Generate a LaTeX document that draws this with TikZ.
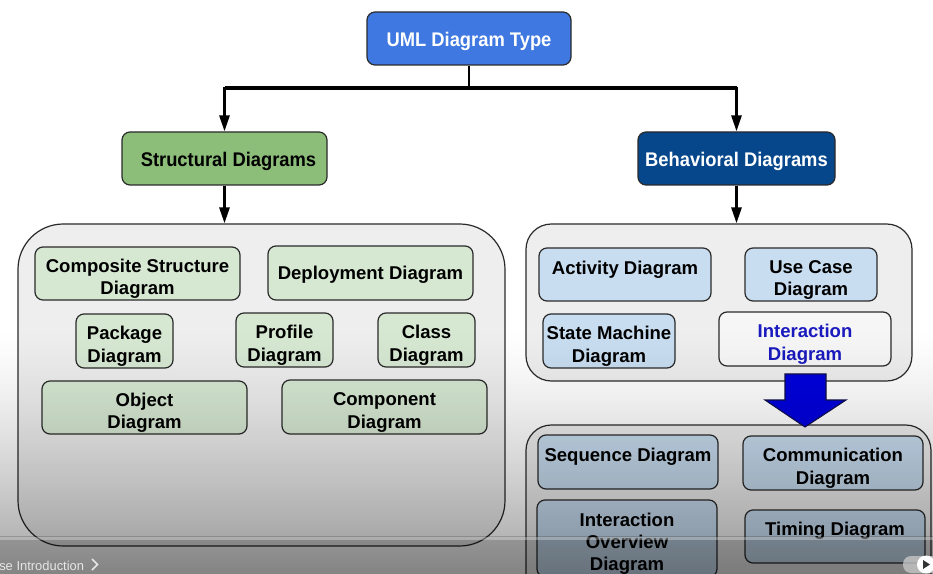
\documentclass[tikz,border=0pt]{standalone}
\usepackage{fontspec}
\setmainfont{Liberation Sans}
\newfontfamily\narrowfont[FakeStretch=0.93]{Liberation Sans}
\usetikzlibrary{arrows.meta}
\definecolor{topblue}{HTML}{3E78E0}
\definecolor{strgreen}{HTML}{8CBE7A}
\definecolor{behblue}{HTML}{06468A}
\definecolor{contfill}{HTML}{EEEEEE}
\definecolor{lgreen}{HTML}{D6E8D2}
\definecolor{lblue}{HTML}{C8DDF0}
\definecolor{interfill}{HTML}{F6F6F6}
\definecolor{edgecol}{HTML}{2A2A2A}
\definecolor{interblue}{HTML}{1A1ABE}
\definecolor{bigarrow}{HTML}{0000DC}
\definecolor{bigarrowedge}{HTML}{10104A}
\definecolor{uitext}{HTML}{E6E6E6}
\newcommand\tstrut{\rule{0pt}{18pt}}
\newcommand\hstrut{\rule{0pt}{14.6pt}}
\begin{document}
\begin{tikzpicture}[x=0.75pt,y=-0.75pt,
  sz/.style n args={2}{minimum width=#1*0.75pt, minimum height=#2*0.75pt},
  box/.style={draw=edgecol, line width=0.9pt, rounded corners=6pt, inner sep=0pt, align=center,
              font=\fontsize{13.9}{16.8}\selectfont\bfseries},
  gbox/.style={box, fill=lgreen},
  bbox/.style={box, fill=lblue},
  titlebox/.style={draw=edgecol, line width=0.9pt, rounded corners=6pt, inner sep=0pt,
              font=\narrowfont\bfseries\fontsize{14.8}{17}\selectfont},
  cont/.style={draw=edgecol, line width=0.9pt, fill=contfill, inner sep=0pt},
  conn/.style={line width=2.1pt, draw=black},
  arr/.style={conn, -{Triangle[length=12pt,width=7.5pt]}},
]
\useasboundingbox (0,0) rectangle (933,574);
\fill[white] (0,0) rectangle (933,574);

% containers
\node[cont, rounded corners=34pt, sz={487}{322}] (leftc) at (261.5,385) {};
\node[cont, rounded corners=19pt, sz={386}{157}] (rc) at (719,302.5) {};
\node[cont, rounded corners=19pt, sz={405}{175}] (bc) at (728.5,512.5) {};

% title boxes
\node[titlebox, fill=topblue, text=white, sz={204}{53}] (top) at (469,38.5) {\hstrut UML Diagram Type};
\node[titlebox, fill=strgreen, sz={205}{53}] (str) at (224.5,158.5) {\hstrut\hspace{6pt}Structural Diagrams};
\node[titlebox, fill=behblue, text=white, sz={197}{53}] (beh) at (736.5,158.5) {\hstrut Behavioral Diagrams};

% structural
\node[gbox, sz={205}{53}] (comp) at (137.5,273.5) {\tstrut Composite Structure\\Diagram};
\node[gbox, sz={205}{54}] (depl) at (370.5,273) {\rule{0pt}{13pt}Deployment Diagram};
\node[gbox, sz={97}{54}] (pack) at (124.5,341) {\tstrut Package\\Diagram};
\node[gbox, sz={97}{54}] (prof) at (284.5,340) {\tstrut Profile\\Diagram};
\node[gbox, sz={97}{54}] (cls) at (426.5,340) {\tstrut Class\\Diagram};
\node[gbox, sz={205}{53}] (obj) at (144.5,407.5) {\tstrut Object\\Diagram};
\node[gbox, sz={205}{54}] (compo) at (384.5,407) {\tstrut Component\\Diagram};

% behavioral
\node[bbox, sz={172}{53}] (act) at (625,274.5) {\raisebox{9.75pt}{Activity Diagram}};
\node[bbox, sz={132}{53}] (usec) at (811,274.5) {\tstrut Use Case\\Diagram};
\node[bbox, sz={132}{54}] (state) at (609,341) {\tstrut State Machine\\Diagram};
\node[box, fill=interfill, text=interblue, sz={172}{54}] (inter) at (805,339) {\tstrut Interaction\\Diagram};

% interaction diagrams
\node[bbox, sz={180}{54}] (seq) at (628,462) {\raisebox{10.5pt}{Sequence Diagram}};
\node[bbox, sz={180}{54}] (commu) at (833,463) {\tstrut Communication\\Diagram};
\node[bbox, sz={180}{77}] (iod) at (627,538.5) {\tstrut Interaction\\Overview\\Diagram};
\node[bbox, sz={180}{53}] (timing) at (835,536.5) {\raisebox{11.25pt}{Timing Diagram}};

% connectors
\coordinate (j) at (469,88);
\draw[conn] (top.south) -- (j);
\draw[arr] (j) -| (str.north);
\draw[arr] (j) -| (beh.north);
\draw[conn, line width=2.8pt] (str.north |- j) -- (beh.north |- j);
\draw[arr] (str.south) -- (str.south |- leftc.north);
\draw[arr] (beh.south) -- (beh.south |- rc.north);

% big blue arrow
\filldraw[fill=bigarrow, draw=bigarrowedge, line width=0.8pt, line join=miter]
  (785,374) -- (826,374) -- (826,400) -- (846,400) -- (805,427) -- (765,400) -- (785,400) -- cycle;

% video overlay gradient
\foreach \i in {1,...,122}{
  \pgfmathsetmacro\ya{330+2*\i}
  \pgfmathsetmacro\op{\ya<538 ? 0.29*((\ya-330)/208)^1.35 : 0.42+0.06*(\ya-540)/34}
  \fill[black, opacity=\op] (-1,\ya-2) rectangle (934,\ya);
}
\fill[white, opacity=0.3] (0,537) rectangle (933,540);

% player UI
\node[anchor=base west, text=uitext, font=\fontsize{9.7}{11}\selectfont, inner sep=0pt] (yt) at (-1,570) {se Introduction};
\draw[uitext, line width=1.1pt] (92,559) -- (97.5,564.5) -- (92,570);
\fill[gray!45, opacity=0.8, rounded corners=6pt] (903,556) rectangle (945,573);
\fill[white] (926,564.5) circle (9);
\fill[black!80] (923,560) -- (930,564.5) -- (923,569) -- cycle;
\end{tikzpicture}
\end{document}
